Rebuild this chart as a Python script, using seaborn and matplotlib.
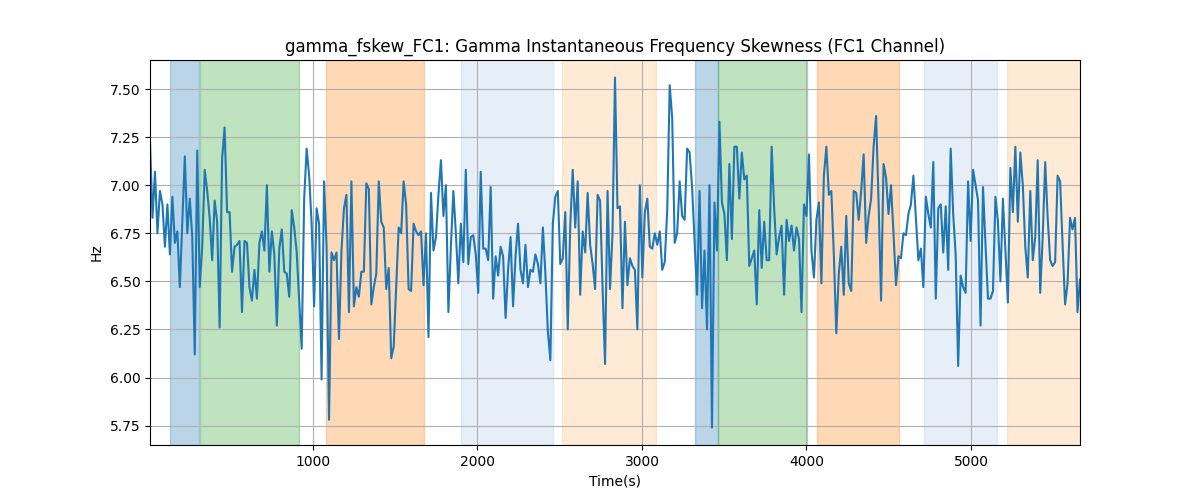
import numpy as np
import pandas as pd
import matplotlib
matplotlib.use("Agg")
import matplotlib.pyplot as plt
import seaborn as sns

T_START, T_END = 9, 5663

seg1 = [7.23, 6.83, 7.07, 6.75, 6.97, 6.90, 6.68, 6.90, 6.64, 6.94, 6.70, 6.76, 6.47, 6.81, 7.15,
        6.75, 6.93, 6.73, 6.12, 7.18, 6.47, 6.68, 7.08, 6.97, 6.83, 6.61, 6.92, 6.81, 6.26, 7.14,
        7.30, 6.86, 6.86, 6.55, 6.68, 6.69, 6.71, 6.34, 6.71, 6.70, 6.47, 6.40, 6.56, 6.41, 6.70,
        6.76, 6.66, 7.00, 6.55, 6.76, 6.64, 6.27, 6.67, 6.77, 6.55, 6.54, 6.42, 6.87, 6.78, 6.65,
        6.40, 6.15, 6.93, 7.19, 7.05, 6.80, 6.37, 6.88, 6.80, 5.99, 7.02, 6.68]
seg2 = [5.78, 6.65, 6.61, 6.65, 6.20, 6.66, 6.88, 6.95, 6.34, 7.02, 6.37, 6.47, 6.42, 6.55, 6.55,
        7.01, 6.98, 6.38, 6.47, 6.54, 7.02, 6.81, 6.78, 6.46, 6.57, 6.10, 6.16, 6.47, 6.78, 6.75,
        7.02, 6.90, 6.46, 6.45, 6.80, 6.76, 6.74, 6.76, 6.48, 6.75, 6.21, 6.96, 6.66, 6.73, 6.95,
        7.13, 6.84, 7.00, 6.34, 6.68, 6.97, 6.75, 6.49, 6.80, 6.60, 7.08, 6.59, 6.73, 6.74, 6.64,
        6.44, 7.07, 6.67, 6.67, 6.61, 6.99, 6.41, 6.63, 6.53, 6.68, 6.63, 6.31, 6.56, 6.73, 6.37,
        6.63, 6.80, 6.56]
seg3 = [6.49, 6.69, 6.47, 6.56, 6.55, 6.64, 6.59, 6.49, 6.78, 6.54, 6.24, 6.09, 6.80, 6.94, 6.97,
        6.59, 6.62, 6.86, 6.25, 6.79, 7.08, 6.78, 7.02, 6.43, 6.76, 6.65, 6.96, 6.69, 6.59, 6.46,
        6.95, 6.92, 6.47, 6.07, 6.97, 6.46, 6.75, 7.56, 6.88, 6.89, 6.36, 6.81, 6.48, 6.62, 6.58,
        6.56, 6.25, 7.00, 6.52, 6.86, 6.93, 6.68, 6.67, 6.75, 6.69, 6.76, 6.56, 6.60, 6.87, 7.52,
        7.35, 6.70, 6.75, 7.02, 6.84, 6.82, 7.19, 7.17, 6.99, 6.71, 6.43, 6.97, 6.36, 6.66, 6.25,
        7.00]
seg4 = [5.74, 6.91, 6.66, 7.33, 6.91, 6.85, 6.61, 7.11, 6.72, 7.20, 7.20, 6.93, 7.17, 7.03, 7.05,
        6.58, 6.62, 6.66, 6.38, 6.87, 6.57, 6.81, 6.61, 6.61, 7.20, 6.88, 6.64, 6.73, 6.79, 6.43,
        6.82, 6.71, 6.79, 6.66, 6.78, 6.72, 6.34, 6.90, 6.84, 7.16, 6.66, 6.52, 6.82, 6.91, 6.49,
        7.05, 7.20, 6.95, 6.97, 6.64, 6.23, 6.54, 6.68, 6.43, 6.84, 6.49, 6.45, 6.97, 6.96, 6.82,
        6.97, 7.16, 6.70, 6.84, 6.93, 7.20, 7.36, 6.91, 6.40, 7.11, 7.04, 6.85, 7.00, 6.75, 6.48,
        6.63]
seg5 = [6.62, 6.75, 6.74, 6.85, 6.90, 7.05, 6.83, 6.61, 6.67, 6.47, 6.94, 6.85, 6.78, 7.12, 6.41,
        6.88, 6.90, 6.65, 6.89, 6.56, 7.19, 6.85, 6.64, 6.06, 6.53, 6.47, 6.44, 7.02, 6.71, 7.08,
        7.00, 6.92, 6.27, 6.99, 6.69, 6.41, 6.41, 6.45, 6.94, 6.81, 6.50, 6.93, 6.66, 6.39, 7.09,
        6.86, 7.20, 6.81, 7.17, 7.00, 6.68, 6.52, 6.97, 6.61, 6.73, 7.13, 6.44, 6.73, 7.12, 6.83,
        6.61, 6.58, 6.60, 7.05, 7.02, 6.69, 6.38, 6.49, 6.83, 6.77, 6.83, 6.34, 6.51]

span_starts = [131, 313, 1077, 1900, 2514, 3322, 3462, 4064, 4714, 5219]
span_ends = [305, 917, 1672, 2461, 3087, 3462, 4004, 4560, 5160, 5663]
span_colors = ["tab:blue", "tab:green", "tab:orange", "#aec7e8", "#ffbb78",
               "tab:blue", "tab:green", "tab:orange", "#aec7e8", "#ffbb78"]

values = np.array(seg1 + seg2 + seg3 + seg4 + seg5)
times = np.linspace(T_START, T_END, len(values))
df = pd.DataFrame({"Time(s)": times, "Hz": values})

fig, ax = plt.subplots(figsize=(12, 5), dpi=100)
for s, e, c in zip(span_starts, span_ends, span_colors):
    ax.axvspan(s, e, color=c, alpha=0.3)
sns.lineplot(data=df, x="Time(s)", y="Hz", ax=ax, color="tab:blue", linewidth=1.5)
ax.set_xlim(times[0], times[-1])
ax.grid(True)
ax.set_title("gamma_fskew_FC1: Gamma Instantaneous Frequency Skewness (FC1 Channel)")
ax.set_xlabel("Time(s)")
ax.set_ylabel("Hz")
fig.savefig("out.png", dpi=100)
